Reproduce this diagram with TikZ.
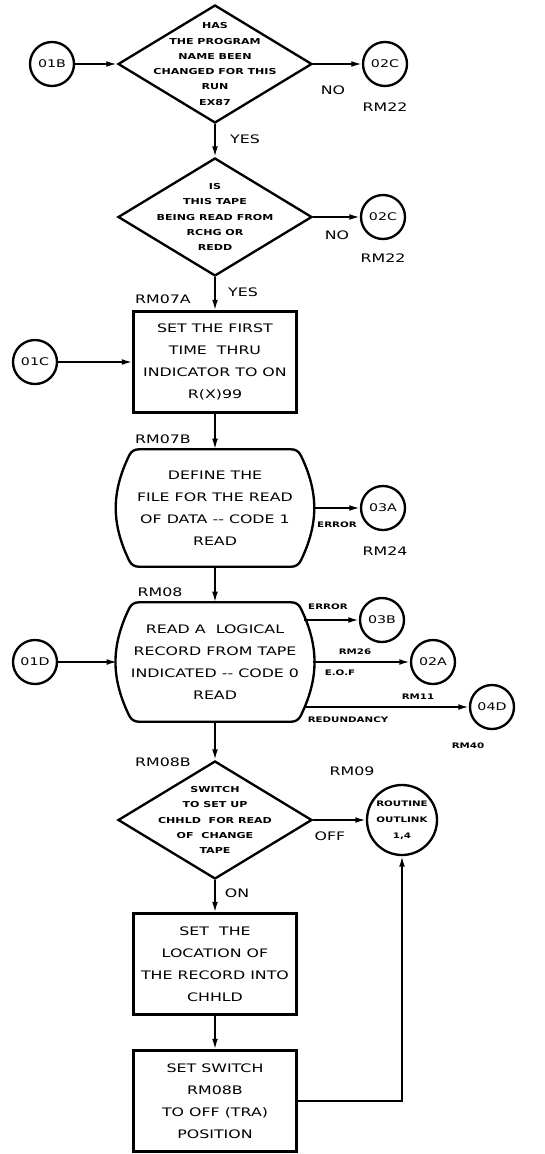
\documentclass[tikz,border=0pt]{standalone}
\usepackage{fontspec}
\setmainfont{DejaVu Sans}
\newfontfamily\wide[FakeStretch=1.35]{DejaVu Sans}
\usetikzlibrary{shapes.geometric,arrows.meta}

\begin{document}
\begin{tikzpicture}[x=0.03cm,y=-0.03cm,
  flow/.style={line width=1.5pt,-{Latex[length=9pt,width=5pt]}},
  conn/.style={circle,draw,line width=2pt,minimum size=1.32cm,inner sep=0pt,font=\wide\fontsize{9}{10}\selectfont},
  decide/.style={diamond,draw,line width=2pt,minimum width=5.82cm,minimum height=3.54cm,inner sep=0pt},
  dtext/.style={align=center,font=\wide\bfseries\fontsize{7}{13}\selectfont},
  procbox/.style={rectangle,draw,line width=2pt,minimum width=4.89cm,minimum height=3.03cm,inner sep=0pt,align=center,font=\wide\fontsize{10}{18.7}\selectfont},
  readblk/.style={minimum width=5.85cm,minimum height=3.51cm,inner sep=0pt,align=center,font=\wide\fontsize{10}{18.7}\selectfont},
  lbl/.style={font=\wide\fontsize{10}{12}\selectfont},
  smalllbl/.style={font=\wide\bfseries\fontsize{6.5}{8}\selectfont}]
\useasboundingbox (0,0) rectangle (545,1154);

% first test
\node[conn] (o1b) at (52,64) {01B};
\node[decide,label={[dtext]center:HAS\\THE PROGRAM\\NAME BEEN\\CHANGED FOR THIS\\RUN\\EX87}] (d1) at (215,64) {};
\node[conn] (o2c) at (385,64) {02C};
\node[lbl] (rm22a) at (385,107) {RM22};
\node[lbl] (no1) at (333,90) {NO};
\node[lbl] (yes1) at (245,139) {YES};

% second test
\node[decide,label={[dtext]center:IS\\THIS TAPE\\BEING READ FROM\\RCHG OR\\REDD}] (d2) at (215,217) {};
\node[conn] (o2cb) at (383,217) {02C};
\node[lbl] (rm22b) at (383,258) {RM22};
\node[lbl] (no2) at (337,235) {NO};
\node[lbl] (yes2) at (243,292) {YES};

% set indicator
\node[lbl] (rm07a) at (163,299) {RM07A};
\node[procbox] (bx1) at (215,362) {SET THE FIRST\\TIME\ \ THRU\\INDICATOR TO ON\\R(X)99};
\node[conn] (o1c) at (35,362) {01C};

% define file
\node[lbl] (rm07b) at (163,439) {RM07B};
\node[readblk] (rd1) at (215,508) {DEFINE THE\\FILE FOR THE READ\\OF DATA -- CODE 1\\READ};
\draw[line width=2pt] ([xshift=0.66cm]rd1.north west) -- ([xshift=-0.66cm]rd1.north east)
  to[out=0,in=116] ([xshift=-0.36cm,yshift=-0.18cm]rd1.north east)
  to[bend left=26] ([xshift=-0.36cm,yshift=0.18cm]rd1.south east)
  to[out=-116,in=0] ([xshift=-0.66cm]rd1.south east)
  -- ([xshift=0.66cm]rd1.south west)
  to[out=180,in=-64] ([xshift=0.36cm,yshift=0.18cm]rd1.south west)
  to[bend left=26] ([xshift=0.36cm,yshift=-0.18cm]rd1.north west)
  to[out=64,in=180] cycle;
\node[conn] (o3a) at (383,508) {03A};
\node[smalllbl] (err1) at (337,525) {ERROR};
\node[lbl] (rm24) at (385,551) {RM24};

% read record
\node[lbl] (rm08) at (160,592) {RM08};
\node[readblk,minimum height=3.57cm] (rd2) at (215,662) {READ A\ \ LOGICAL\\RECORD FROM TAPE\\INDICATED -- CODE 0\\READ};
\draw[line width=2pt] ([xshift=0.66cm]rd2.north west) -- ([xshift=-0.66cm]rd2.north east)
  to[out=0,in=116] ([xshift=-0.36cm,yshift=-0.18cm]rd2.north east)
  to[bend left=26] ([xshift=-0.36cm,yshift=0.18cm]rd2.south east)
  to[out=-116,in=0] ([xshift=-0.66cm]rd2.south east)
  -- ([xshift=0.66cm]rd2.south west)
  to[out=180,in=-64] ([xshift=0.36cm,yshift=0.18cm]rd2.south west)
  to[bend left=26] ([xshift=0.36cm,yshift=-0.18cm]rd2.north west)
  to[out=64,in=180] cycle;
\node[conn] (o1d) at (35,662) {01D};
\node[conn] (o3b) at (382,620) {03B};
\node[conn] (o2a) at (433,662) {02A};
\node[conn] (o4d) at (492,707) {04D};
\node[smalllbl] (err2) at (328,607) {ERROR};
\node[smalllbl] (rm26) at (355,652) {RM26};
\node[smalllbl] (eof) at (340,673) {E.O.F};
\node[smalllbl] (rm11) at (418,697) {RM11};
\node[smalllbl] (redund) at (348,720) {REDUNDANCY};
\node[smalllbl] (rm40) at (468,746) {RM40};

% switch test
\node[lbl] (rm08b) at (163,762) {RM08B};
\node[decide,label={[dtext]center:SWITCH\\TO SET UP\\CHHLD\ \ FOR READ\\OF\ \ CHANGE\\TAPE}] (d3) at (215,820) {};
\node[lbl] (rm09) at (352,771) {RM09};
\node[conn,minimum size=2.1cm,font=\wide\bfseries\fontsize{6.5}{13.6}\selectfont,align=center] (outl) at (402,820) {ROUTINE\\OUTLINK\\1,4};
\node[lbl] (off) at (330,836) {OFF};
\node[lbl] (on) at (237,893) {ON};

% switch off
\node[procbox] (bx3) at (215,964) {SET\ \ THE\\LOCATION OF\\THE RECORD INTO\\CHHLD};
\node[procbox] (bx4) at (215,1101) {SET SWITCH\\RM08B\\TO OFF (TRA)\\POSITION};

% connectors
\draw[flow] (o1b) -- (d1);
\draw[flow] (d1) -- (o2c);
\draw[flow] (d1) -- (d2);
\draw[flow] (d2) -- (o2cb);
\draw[flow] (d2) -- (bx1);
\draw[flow] (o1c) -- (bx1);
\draw[flow] (bx1) -- (rd1);
\draw[flow] (rd1) -- (o3a);
\draw[flow] (rd1) -- (rd2);
\draw[flow] (o1d) -- (rd2);
\draw[flow] ([xshift=-0.25cm]rd2.east |- o3b) -- (o3b);
\draw[flow] (rd2) -- (o2a);
\draw[flow] ([xshift=-0.25cm]rd2.east |- o4d) -- (o4d);
\draw[flow] (rd2) -- (d3);
\draw[flow] (d3) -- (outl);
\draw[flow] (d3) -- (bx3);
\draw[flow] (bx3) -- (bx4);
\draw[flow] (bx4.east) -| (outl.south);
\end{tikzpicture}
\end{document}
